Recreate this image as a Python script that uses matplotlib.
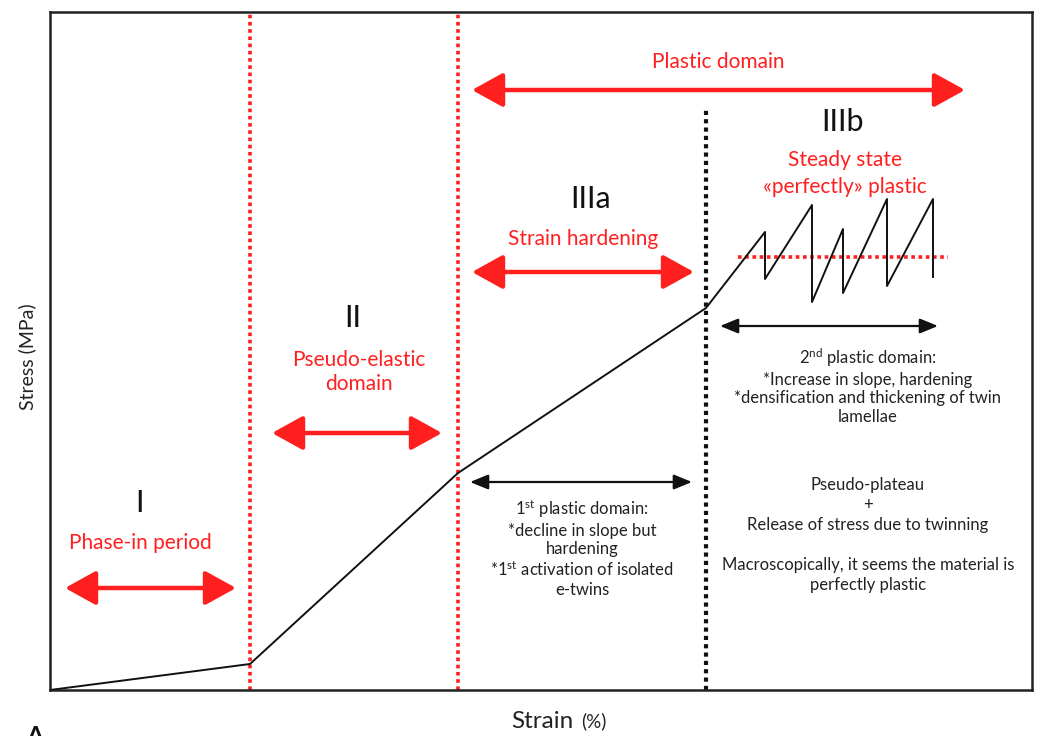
import matplotlib
matplotlib.use("Agg")
import matplotlib.pyplot as plt

plt.rcParams['font.family'] = ['Lato', 'DejaVu Sans']
plt.rcParams['mathtext.fontset'] = 'custom'
plt.rcParams['mathtext.rm'] = 'Lato'
plt.rcParams['mathtext.it'] = 'Lato:italic'

RED = '#ff1f1f'

# Stress-strain curve (arbitrary units)
curve_strain = [0, 20, 40.8, 65.6, 71.5, 71.5, 76.2, 76.2, 79.3, 79.3, 83.7, 83.7, 88.3, 88.3]
curve_stress = [0, 2.6, 21.7, 38.2, 45.8, 41.1, 48.5, 38.8, 46.1, 39.7, 49.1, 40.4, 49.1, 41.3]

# Domain boundaries
red_bounds = [20, 40.8]
black_bound = 65.6
black_bound_top = 58.2

# Steady state level
plateau_level = 43.3
plateau_span = [68.8, 89.8]

# Red double arrows: (x0, x1, y)
red_arrows = [(42.2, 91.5, 60.0), (42.2, 64.4, 41.8), (22.2, 39.2, 25.7), (1.5, 18.6, 10.2)]
# Black double arrows
black_arrows = [(42.0, 64.2, 20.8), (67.0, 88.8, 36.4)]

fig = plt.figure(figsize=(10.41, 7.36), dpi=100)
ax = fig.add_axes([50/1041, 1-690/736, (1032-50)/1041, (690-12)/736])
ax.set_xlim(0, 98.2)
ax.set_ylim(0, 67.8)
ax.set_xticks([])
ax.set_yticks([])
for s in ax.spines.values():
    s.set_color('#222222')
    s.set_linewidth(1.8)

for xb in red_bounds:
    ax.plot([xb, xb], [0, 67.8], color=RED, lw=2.6, ls=(0, (1, 1)), zorder=2)
ax.plot([black_bound, black_bound], [0, black_bound_top], color='#111111', lw=3, ls=(0, (1, 1)), zorder=2)
ax.plot(plateau_span, [plateau_level, plateau_level], color=RED, lw=2.6, ls=(0, (1, 1)), zorder=2)

ax.plot(curve_strain, curve_stress, color='#111111', lw=1.4, zorder=3)

for x0, x1, y in red_arrows:
    ax.annotate('', xy=(x1, y), xytext=(x0, y),
                arrowprops=dict(arrowstyle='<|-|>,head_length=1.9,head_width=1.05',
                                lw=3.2, color=RED, shrinkA=0, shrinkB=0))
for x0, x1, y in black_arrows:
    ax.annotate('', xy=(x1, y), xytext=(x0, y),
                arrowprops=dict(arrowstyle='<|-|>,head_length=1.1,head_width=0.45',
                                lw=1.6, color='#111111', shrinkA=0, shrinkB=0))

# Roman numerals
for txt, x, y in [('IIIa', 54.1, 49.1), ('IIIb', 79.2, 56.8), ('II', 30.3, 37.2), ('I', 9.0, 18.7)]:
    ax.text(x, y, txt, fontsize=22, ha='center', va='center', color='#111111')

# Red labels
ax.text(66.8, 62.8, 'Plastic domain', fontsize=15, ha='center', va='center', color=RED)
ax.text(53.3, 45.1, 'Strain hardening', fontsize=15, ha='center', va='center', color=RED)
ax.text(9.0, 14.7, 'Phase-in period', fontsize=15, ha='center', va='center', color=RED)
ax.text(79.5, 51.65, 'Steady state\n«perfectly» plastic', fontsize=15, ha='center', va='center',
        color=RED, linespacing=1.4)
ax.text(30.9, 31.8, 'Pseudo-elastic\ndomain', fontsize=15, ha='center', va='center',
        color=RED, linespacing=1.3)

# Black descriptions
ax.text(53.2, 14.2, '1$^{\\mathrm{st}}$ plastic domain:\n*decline in slope but\nhardening\n*1$^{\\mathrm{st}}$ activation of isolated\ne-twins',
        fontsize=12, ha='center', va='center', color='#222222', linespacing=1.2)
ax.text(81.8, 30.4, '2$^{\\mathrm{nd}}$ plastic domain:\n*Increase in slope, hardening\n*densification and thickening of twin\nlamellae',
        fontsize=12, ha='center', va='center', color='#222222', linespacing=1.2)
ax.text(81.8, 15.5, 'Pseudo-plateau\n+\nRelease of stress due to twinning\n\nMacroscopically, it seems the material is\nperfectly plastic',
        fontsize=12, ha='center', va='center', color='#222222', linespacing=1.3)

# Axis labels
fig.text(27/1041, 1-357/736, 'Stress (MPa)', rotation=90, fontsize=14, ha='center', va='center', color='#222222')
fig.text(542/1041, 1-721/736, 'Strain', fontsize=17.5, ha='center', va='center', color='#222222')
fig.text(594/1041, 1-721/736, '(%)', fontsize=13.5, ha='center', va='center', color='#222222')
fig.text(26/1041, 1-725/736, 'A', fontsize=18, fontweight='bold', ha='left', va='top', color='#111111')

fig.savefig('out.png', dpi=100)
